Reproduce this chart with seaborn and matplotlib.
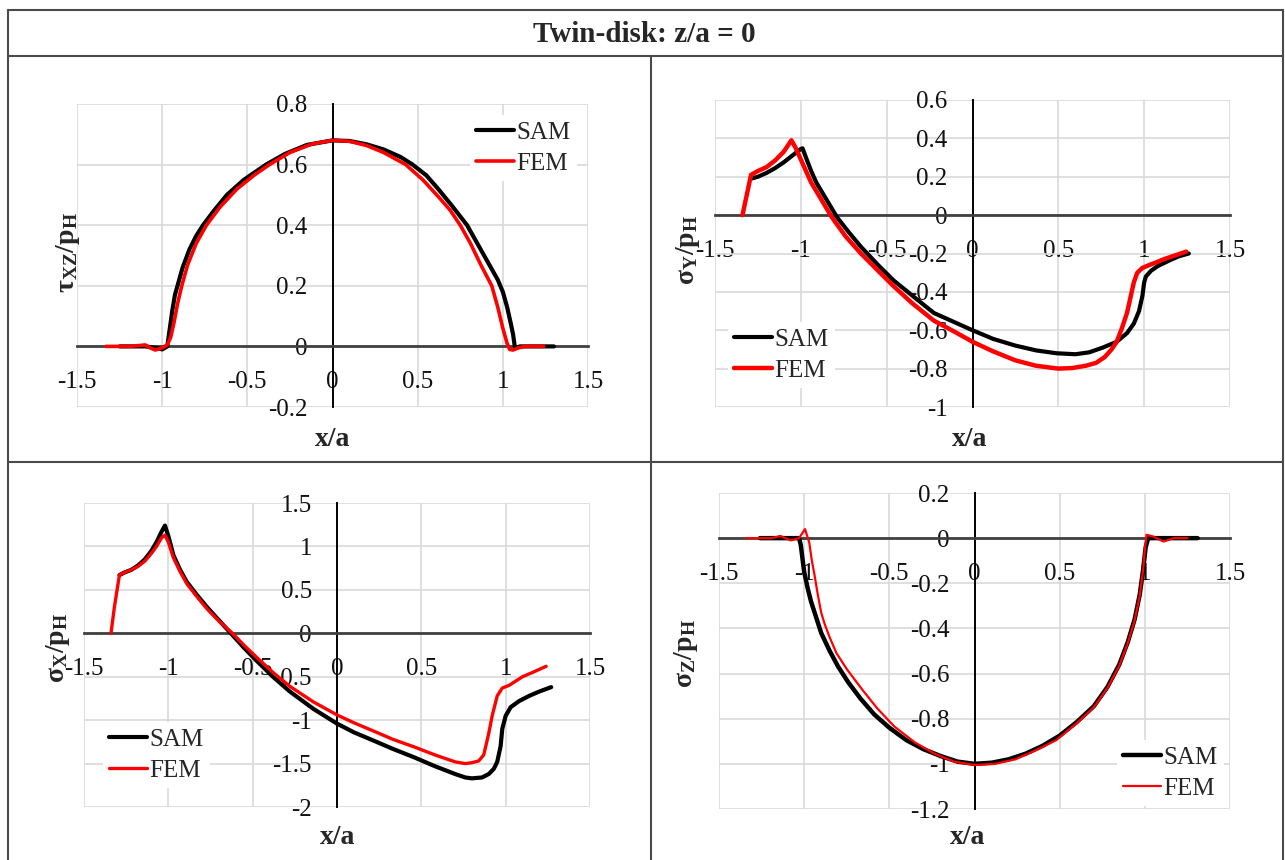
import numpy as np
import pandas as pd
import seaborn as sns
import matplotlib
matplotlib.use("Agg")
from matplotlib import pyplot as plt
from matplotlib.lines import Line2D

# values (x/a, stress/pH)
txz_sam_x = [-1.25, -1.1, -1.03, -1.0, -0.97, -0.955, -0.94, -0.925, -0.91, -0.88, -0.84, -0.8, -0.76, -0.7,
             -0.62, -0.52, -0.39, -0.28, -0.15, 0.0, 0.1, 0.2, 0.3, 0.4, 0.47, 0.55, 0.62, 0.7, 0.79, 0.85,
             0.9, 0.94, 0.97, 1.0, 1.025, 1.045, 1.06, 1.07, 1.08, 1.1, 1.3]
txz_sam_y = [0.0, 0.0, -0.005, -0.01, 0.0, 0.06, 0.12, 0.17, 0.2, 0.26, 0.32, 0.365, 0.4, 0.445,
             0.5, 0.55, 0.6, 0.635, 0.665, 0.68, 0.678, 0.667, 0.65, 0.625, 0.6, 0.565, 0.52, 0.465, 0.4, 0.34,
             0.29, 0.25, 0.22, 0.18, 0.13, 0.08, 0.04, 0.0, -0.005, 0.0, 0.0]
txz_fem_x = [-1.33, -1.2, -1.13, -1.1, -1.07, -1.04, -1.0, -0.97, -0.95, -0.93, -0.91, -0.885, -0.85, -0.8,
             -0.74, -0.66, -0.56, -0.46, -0.37, -0.25, -0.12, 0.0, 0.1, 0.2, 0.3, 0.43, 0.53, 0.62, 0.69,
             0.75, 0.81, 0.87, 0.935, 0.97, 1.0, 1.025, 1.04, 1.06, 1.09, 1.13, 1.24]
txz_fem_y = [0.0, 0.0, 0.003, 0.005, -0.005, -0.012, -0.005, 0.005, 0.03, 0.08, 0.14, 0.2, 0.27, 0.34,
             0.4, 0.46, 0.52, 0.565, 0.6, 0.64, 0.668, 0.68, 0.677, 0.663, 0.64, 0.6, 0.55, 0.495, 0.45,
             0.4, 0.34, 0.27, 0.2, 0.13, 0.06, 0.01, -0.01, -0.012, -0.005, 0.0, 0.0]

sy_sam_x = [-1.29, -1.25, -1.2, -1.15, -1.1, -1.05, -1.0, -0.99, -0.97, -0.94, -0.91, -0.87, -0.83, -0.79,
            -0.72, -0.65, -0.55, -0.46, -0.35, -0.225, -0.1, 0.0, 0.12, 0.25, 0.37, 0.49, 0.6, 0.68, 0.76,
            0.84, 0.9, 0.94, 0.97, 0.99, 1.0, 1.01, 1.04, 1.08, 1.15, 1.2, 1.26]
sy_sam_y = [0.19, 0.2, 0.22, 0.245, 0.275, 0.31, 0.345, 0.348, 0.3, 0.23, 0.17, 0.11, 0.05, -0.01,
            -0.09, -0.165, -0.26, -0.34, -0.42, -0.51, -0.56, -0.6, -0.645, -0.68, -0.705, -0.72, -0.725,
            -0.715, -0.69, -0.66, -0.615, -0.565, -0.5, -0.42, -0.35, -0.32, -0.29, -0.265, -0.235, -0.215, -0.2]
sy_fem_x = [-1.34, -1.29, -1.25, -1.2, -1.15, -1.1, -1.07, -1.055, -1.03, -1.0, -0.97, -0.94, -0.9, -0.86,
            -0.82, -0.74, -0.65, -0.55, -0.46, -0.35, -0.225, -0.1, 0.0, 0.12, 0.25, 0.37, 0.5, 0.58, 0.66,
            0.72, 0.77, 0.81, 0.84, 0.87, 0.9, 0.92, 0.94, 0.96, 0.99, 1.03, 1.06, 1.1, 1.13, 1.18, 1.245]
sy_fem_y = [0.0, 0.21, 0.23, 0.25, 0.285, 0.33, 0.37, 0.39, 0.35, 0.29, 0.23, 0.17, 0.11, 0.05,
            -0.01, -0.11, -0.2, -0.29, -0.37, -0.46, -0.55, -0.61, -0.66, -0.71, -0.757, -0.785, -0.8, -0.797,
            -0.785, -0.77, -0.74, -0.7, -0.66, -0.59, -0.51, -0.43, -0.35, -0.3, -0.275, -0.26, -0.25, -0.235,
            -0.225, -0.21, -0.19]

sx_sam_x = [-1.29, -1.26, -1.22, -1.18, -1.14, -1.1, -1.07, -1.04, -1.02, -1.0, -0.97, -0.93, -0.89, -0.83,
            -0.77, -0.7, -0.62, -0.55, -0.48, -0.38, -0.28, -0.14, 0.0, 0.1, 0.21, 0.33, 0.46, 0.58, 0.7,
            0.76, 0.8, 0.86, 0.9, 0.93, 0.95, 0.97, 0.98, 1.0, 1.03, 1.08, 1.14, 1.2, 1.27]
sx_sam_y = [0.67, 0.7, 0.73, 0.78, 0.85, 0.95, 1.05, 1.17, 1.24, 1.12, 0.9, 0.73, 0.59, 0.44,
            0.3, 0.15, -0.02, -0.17, -0.31, -0.5, -0.67, -0.87, -1.04, -1.14, -1.23, -1.33, -1.43, -1.53, -1.62,
            -1.66, -1.67, -1.66, -1.62, -1.56, -1.48, -1.3, -1.1, -0.95, -0.85, -0.78, -0.72, -0.67, -0.62]
sx_fem_x = [-1.34, -1.32, -1.29, -1.26, -1.22, -1.18, -1.14, -1.1, -1.07, -1.04, -1.02, -1.0, -0.97, -0.93,
            -0.89, -0.83, -0.77, -0.7, -0.62, -0.55, -0.48, -0.38, -0.28, -0.14, 0.0, 0.1, 0.21, 0.33, 0.46,
            0.58, 0.7, 0.76, 0.8, 0.84, 0.87, 0.9, 0.92, 0.95, 0.98, 1.02, 1.06, 1.1, 1.16, 1.24]
sx_fem_y = [0.0, 0.3, 0.67, 0.7, 0.73, 0.77, 0.83, 0.92, 1.0, 1.1, 1.13, 1.05, 0.87, 0.71,
            0.57, 0.42, 0.28, 0.14, 0.0, -0.14, -0.27, -0.45, -0.61, -0.79, -0.94, -1.03, -1.12, -1.22, -1.31,
            -1.4, -1.48, -1.5, -1.49, -1.47, -1.4, -1.15, -0.95, -0.72, -0.63, -0.6, -0.55, -0.5, -0.45, -0.38]

sz_sam_x = [-1.26, -1.1, -1.03, -1.02, -1.0, -0.98, -0.96, -0.93, -0.9, -0.85, -0.8, -0.74, -0.67, -0.59,
            -0.5, -0.4, -0.3, -0.2, -0.1, 0.0, 0.1, 0.2, 0.3, 0.4, 0.5, 0.6, 0.7, 0.78, 0.85, 0.9, 0.94,
            0.97, 0.99, 1.005, 1.02, 1.1, 1.31]
sz_sam_y = [0.0, 0.0, 0.0, -0.03, -0.15, -0.22, -0.28, -0.35, -0.42, -0.5, -0.57, -0.64, -0.71, -0.78,
            -0.84, -0.895, -0.935, -0.965, -0.99, -1.0, -0.995, -0.98, -0.955, -0.92, -0.875, -0.815, -0.745,
            -0.66, -0.56, -0.46, -0.36, -0.25, -0.14, -0.04, 0.0, 0.0, 0.0]
sz_fem_x = [-1.34, -1.19, -1.14, -1.08, -1.03, -0.995, -0.97, -0.955, -0.94, -0.92, -0.9, -0.88, -0.85,
            -0.81, -0.75, -0.66, -0.57, -0.47, -0.35, -0.235, -0.12, 0.0, 0.12, 0.24, 0.36, 0.48, 0.6, 0.7,
            0.78, 0.85, 0.9, 0.94, 0.97, 0.99, 1.0, 1.01, 1.05, 1.11, 1.17, 1.25]
sz_fem_y = [0.0, 0.0, 0.01, -0.01, 0.0, 0.04, -0.02, -0.1, -0.16, -0.25, -0.33, -0.38, -0.44,
            -0.51, -0.58, -0.67, -0.755, -0.835, -0.905, -0.955, -0.99, -1.005, -1.0, -0.98, -0.94, -0.895,
            -0.82, -0.75, -0.665, -0.565, -0.465, -0.365, -0.255, -0.14, -0.05, 0.015, 0.007, -0.015, 0.0, 0.0]

x_ticks = [-1.5, -1.0, -0.5, 0.0, 0.5, 1.0, 1.5]

sns.set_theme(style="white")
plt.rcParams["font.family"] = ["Liberation Serif", "DejaVu Serif"]
plt.rcParams["mathtext.fontset"] = "custom"
plt.rcParams["mathtext.rm"] = "Liberation Serif"
plt.rcParams["mathtext.it"] = "Liberation Serif:italic"
plt.rcParams["mathtext.bf"] = "Liberation Serif:bold"
plt.rcParams["axes.unicode_minus"] = False

W, H = 1285, 860
fig = plt.figure(figsize=(W / 100, H / 100), dpi=100)
fig.patch.set_facecolor("white")

def fx(p):
    return p / W

def fy(p):
    return 1 - p / H

# table frame
tc = "#4a4a4a"
for (x0, y0, x1, y1) in [(8, 10, 1283, 10), (8, 56, 1283, 56), (8, 462, 1283, 462),
                         (8, 10, 8, 860), (1283, 10, 1283, 860), (651, 56, 651, 860)]:
    fig.add_artist(Line2D([fx(x0), fx(x1)], [fy(y0), fy(y1)], color=tc, lw=1.5))

fig.text(fx(644), fy(34), "Twin-disk: z/a = 0", ha="center", va="center",
         fontsize=21, fontweight="bold")

panels = [
    dict(rect=(77, 104, 588, 407), ylim=(-0.2, 0.8), yt=np.arange(-0.2, 0.81, 0.2),
         sam=(txz_sam_x, txz_sam_y), fem=(txz_fem_x, txz_fem_y),
         ylabel=r"$\mathbf{\tau_{XZ}/p_H}$", ylab=(68, 253), xlab=(333, 440),
         leg=(470, 148), lw=(3.0, 2.6)),
    dict(rect=(715, 100, 1230, 407), ylim=(-1.0, 0.6), yt=np.arange(-1.0, 0.61, 0.2),
         sam=(sy_sam_x, sy_sam_y), fem=(sy_fem_x, sy_fem_y),
         ylabel=r"$\mathbf{\sigma_{Y}/p_H}$", ylab=(688, 250), xlab=(970, 440),
         leg=(728, 355), lw=(3.0, 3.2)),
    dict(rect=(84, 503, 590, 807), ylim=(-2.0, 1.5), yt=np.arange(-2.0, 1.51, 0.5),
         sam=(sx_sam_x, sx_sam_y), fem=(sx_fem_x, sx_fem_y),
         ylabel=r"$\mathbf{\sigma_{X}/p_H}$", ylab=(58, 648), xlab=(338, 838),
         leg=(103, 755), lw=(3.0, 2.4)),
    dict(rect=(719, 493, 1230, 809), ylim=(-1.2, 0.2), yt=np.arange(-1.2, 0.21, 0.2),
         sam=(sz_sam_x, sz_sam_y), fem=(sz_fem_x, sz_fem_y),
         ylabel=r"$\mathbf{\sigma_{Z}/p_H}$", ylab=(686, 653), xlab=(968, 838),
         leg=(1117, 773), lw=(3.2, 1.6)),
]

for p in panels:
    x0, y0, x1, y1 = p["rect"]
    ax = fig.add_axes([fx(x0), fy(y1), (x1 - x0) / W, (y1 - y0) / H])
    sam = pd.DataFrame({"x": p["sam"][0], "y": p["sam"][1]})
    fem = pd.DataFrame({"x": p["fem"][0], "y": p["fem"][1]})
    sns.lineplot(data=sam, x="x", y="y", ax=ax, color="black", lw=p["lw"][0],
                 label="SAM", estimator=None, sort=False, zorder=3)
    sns.lineplot(data=fem, x="x", y="y", ax=ax, color="#ff0000", lw=p["lw"][1],
                 label="FEM", estimator=None, sort=False, zorder=4)

    yt = np.round(p["yt"], 2) + 0.0
    ax.set_xlim(-1.5, 1.5)
    ax.set_ylim(*p["ylim"])
    ax.set_xticks(x_ticks)
    ax.set_yticks(yt)
    ax.set_xticklabels([f"{v:g}" for v in x_ticks])
    ax.set_yticklabels([f"{v:g}" for v in yt])
    ax.grid(True, color="#d9d9d9", lw=1.2)
    ax.set_axisbelow(True)

    for s in ["top", "right"]:
        ax.spines[s].set_visible(False)
    ax.spines["left"].set_position(("data", 0))
    ax.spines["bottom"].set_position(("data", 0))
    ax.spines["left"].set_color("black")
    ax.spines["left"].set_linewidth(1.4)
    ax.spines["bottom"].set_color("#404040")
    ax.spines["bottom"].set_linewidth(2.0)
    ax.tick_params(axis="x", length=0, pad=18, labelsize=18, labelcolor="#111111")
    ax.tick_params(axis="y", length=0, pad=18, labelsize=18, labelcolor="#111111")
    ax.set_xlabel("")
    ax.set_ylabel("")

    fig.text(fx(p["ylab"][0]), fy(p["ylab"][1]), p["ylabel"], rotation=90,
             ha="center", va="center", fontsize=20)
    fig.text(fx(p["xlab"][0]), fy(p["xlab"][1]), "x/a", ha="center", va="center",
             fontsize=20, fontweight="bold")

    ax.legend(loc="center left", bbox_to_anchor=(fx(p["leg"][0]), fy(p["leg"][1])),
              bbox_transform=fig.transFigure, frameon=True, facecolor="white",
              edgecolor="none", framealpha=1, fancybox=False, fontsize=18,
              handlelength=1.5, handletextpad=0.1, labelspacing=0.35,
              borderpad=0.25, borderaxespad=0)

fig.savefig("out.png", dpi=100, facecolor="white")
